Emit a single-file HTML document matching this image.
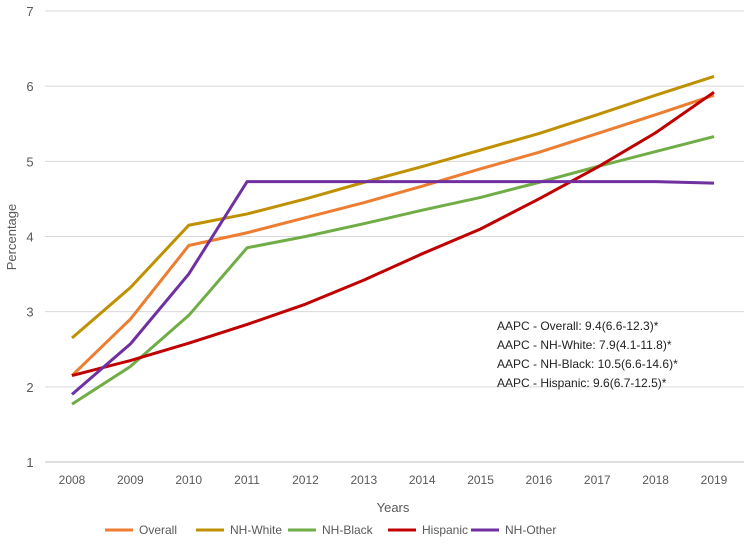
<!DOCTYPE html>
<html><head><meta charset="utf-8"><style>
body{margin:0;background:#fff;font-family:"Liberation Sans",sans-serif;}
svg text{font-family:"Liberation Sans",sans-serif;}
</style></head><body>
<svg id="chart" width="746" height="546">
<g id="grid"></g><g id="series"></g><g id="labels"></g>
<g font-size="12" fill="#222">
<text x="497" y="330">AAPC - Overall: 9.4(6.6-12.3)*</text>
<text x="497" y="349">AAPC - NH-White: 7.9(4.1-11.8)*</text>
<text x="497" y="368">AAPC - NH-Black: 10.5(6.6-14.6)*</text>
<text x="497" y="387">AAPC - Hispanic: 9.6(6.7-12.5)*</text>
</g>
<text x="393" y="512" text-anchor="middle" font-size="13" fill="#595959">Years</text>
<text transform="translate(16,237) rotate(-90)" text-anchor="middle" font-size="13" fill="#595959">Percentage</text>
<g id="legend"></g>
</svg>
<script>
const years=[2008,2009,2010,2011,2012,2013,2014,2015,2016,2017,2018,2019];
const yTicks=[1,2,3,4,5,6,7];
const seriesNames=["Overall","NH-White","NH-Black","Hispanic","NH-Other"];
const overall=[2.15,2.9,3.88,4.05,4.25,4.45,4.67,4.9,5.12,5.37,5.62,5.88];
const nhWhite=[2.65,3.32,4.15,4.3,4.5,4.72,4.93,5.15,5.37,5.62,5.88,6.13];
const nhBlack=[1.77,2.27,2.95,3.85,4.0,4.17,4.35,4.52,4.72,4.93,5.13,5.33];
const hispanic=[2.15,2.35,2.58,2.83,3.1,3.42,3.77,4.1,4.5,4.92,5.38,5.92];
const nhOther=[1.9,2.57,3.5,4.73,4.73,4.73,4.73,4.73,4.73,4.73,4.73,4.71];
const colors=["#ED7D31","#BF9000","#70AD47","#C00000","#7030A0"];
const allSeries=[overall,nhWhite,nhBlack,hispanic,nhOther];
const NS="http://www.w3.org/2000/svg";
const x=i=>72+i*(714-72)/(years.length-1);
const y=v=>462-(v-1)*(462-11)/6;
function mk(t,a,p){const e=document.createElementNS(NS,t);for(const k in a)e.setAttribute(k,a[k]);p.appendChild(e);return e;}
const grid=document.getElementById('grid'),labels=document.getElementById('labels');
yTicks.forEach(v=>{
 const l=mk('line',{x1:45,x2:744,y1:y(v),y2:y(v),stroke:v===1?'#bfbfbf':'#d9d9d9','stroke-width':1},grid);
 
 
 const t=mk('text',{x:30,y:y(v)+5,'text-anchor':'middle','font-size':13,fill:'#595959'},labels);
 t.textContent=v;
 
 
});
years.forEach((yr,i)=>{
 const t=mk('text',{x:x(i),y:484,'text-anchor':'middle','font-size':12,fill:'#595959'},labels);
 t.textContent=yr;
 
 
});
const sg=document.getElementById('series');
allSeries.forEach((s,k)=>{
 const p=mk('polyline',{points:s.map((v,i)=>x(i)+','+y(v)).join(' '),fill:'none',stroke:colors[k],'stroke-width':3,'stroke-linejoin':'round'},sg);
 
 
});
const lg=document.getElementById('legend');
const lx=[105,196,288,388,471];
seriesNames.forEach((n,k)=>{
 const g=mk('g',{},lg);
 
 
 mk('line',{x1:lx[k],x2:lx[k]+28,y1:530,y2:530,stroke:colors[k],'stroke-width':3},g);
 const t=mk('text',{x:lx[k]+34,y:534,'font-size':12,fill:'#595959'},g);
 t.textContent=n;
});
</script>
</body></html>
